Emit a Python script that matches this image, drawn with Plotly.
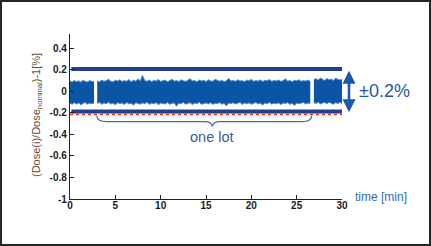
import numpy as np
import plotly.graph_objects as go

# ---- data ----
seg_bounds = [(0.0, 2.65), (3.0, 26.5), (26.9, 30.0)]  # minutes

up1 = [0.095, 0.088, 0.102, 0.09, 0.098, 0.085, 0.105, 0.092, 0.088, 0.1, 0.094, 0.09]
lo1 = [-0.11, -0.12, -0.105, -0.118, -0.108, -0.125, -0.112, -0.104, -0.12, -0.11, -0.115, -0.108]

up2 = [0.098, 0.09, 0.105, 0.093, 0.1, 0.112, 0.095, 0.088, 0.104, 0.097,
       0.108, 0.092, 0.1, 0.094, 0.11, 0.09, 0.103, 0.096, 0.115, 0.099,
       0.148, 0.1, 0.094, 0.106, 0.091, 0.102, 0.097, 0.11, 0.093, 0.1,
       0.105, 0.089, 0.098, 0.112, 0.095, 0.101, 0.092, 0.107, 0.099, 0.093,
       0.104, 0.118, 0.096, 0.1, 0.09, 0.106, 0.097, 0.103, 0.091, 0.109,
       0.098, 0.094, 0.112, 0.1, 0.095, 0.104, 0.09, 0.099, 0.121, 0.096,
       0.102, 0.093, 0.108, 0.097, 0.1, 0.091, 0.105, 0.098, 0.113, 0.094,
       0.1, 0.096, 0.107, 0.092, 0.103, 0.099, 0.11, 0.094, 0.101, 0.097,
       0.106, 0.093, 0.099, 0.117, 0.095, 0.102, 0.09, 0.104, 0.098, 0.108,
       0.094, 0.1, 0.096, 0.105, 0.092]
lo2 = [-0.112, -0.104, -0.12, -0.108, -0.115, -0.102, -0.118, -0.11, -0.125, -0.106,
       -0.114, -0.108, -0.122, -0.104, -0.117, -0.111, -0.128, -0.106, -0.113, -0.119,
       -0.108, -0.115, -0.102, -0.121, -0.11, -0.116, -0.105, -0.124, -0.109, -0.113,
       -0.118, -0.104, -0.12, -0.112, -0.107, -0.138, -0.11, -0.116, -0.103, -0.119,
       -0.111, -0.106, -0.123, -0.109, -0.114, -0.102, -0.12, -0.113, -0.108, -0.117,
       -0.105, -0.121, -0.11, -0.115, -0.104, -0.119, -0.112, -0.135, -0.108, -0.114,
       -0.106, -0.118, -0.11, -0.103, -0.122, -0.109, -0.115, -0.107, -0.12, -0.112,
       -0.104, -0.117, -0.111, -0.126, -0.108, -0.114, -0.103, -0.119, -0.11, -0.116,
       -0.107, -0.122, -0.109, -0.113, -0.105, -0.12, -0.111, -0.132, -0.108, -0.116,
       -0.11, -0.104, -0.118, -0.109, -0.113]

up3 = [0.11, 0.118, 0.104, 0.125, 0.112, 0.1, 0.12, 0.108, 0.115, 0.102, 0.122, 0.11, 0.106, 0.112]
lo3 = [-0.105, -0.112, -0.1, -0.118, -0.108, -0.104, -0.115, -0.102, -0.11, -0.12, -0.106, -0.113, -0.104, -0.11]

upper_bar = 0.208
lower_bar = -0.188
red_limit = -0.215
lot_start, lot_end = 2.94, 26.66

y_ticks = [0.4, 0.2, 0, -0.2, -0.4, -0.6, -0.8, -1]
y_tick_text = ["0.4", "0.2", "0", "-0.2", "-0.4", "-0.6", "-0.8", "-1"]
x_ticks = [0, 5, 10, 15, 20, 25, 30]

# ---- figure ----
fig = go.Figure()

SIG_FILL = "#0b56a4"
SIG_EDGE = "#5a8fcc"
for (t0, t1), up, lo in zip(seg_bounds, [up1, up2, up3], [lo1, lo2, lo3]):
    t = np.linspace(t0, t1, len(up))
    fig.add_trace(go.Scatter(x=t, y=lo, mode="lines", line=dict(color=SIG_EDGE, width=1),
                             showlegend=False, hoverinfo="skip"))
    fig.add_trace(go.Scatter(x=t, y=up, mode="lines", line=dict(color=SIG_EDGE, width=1),
                             fill="tonexty", fillcolor=SIG_FILL, showlegend=False, hoverinfo="skip"))

# red dotted limit
fig.add_trace(go.Scatter(x=[0, 30], y=[red_limit, red_limit], mode="lines",
                         line=dict(color="#e0332b", width=1.5, dash="dot"),
                         showlegend=False, hoverinfo="skip"))
# navy limit bars
for yb in [upper_bar, lower_bar]:
    fig.add_trace(go.Scatter(x=[0.15, 30], y=[yb, yb], mode="lines",
                             line=dict(color="#243f8c", width=4),
                             showlegend=False, hoverinfo="skip"))

# plot-area pixel geometry
L, R, T, B = 70, 89, 34, 47
W, H = 431, 246
pw, ph = W - L - R, H - T - B
def px_x(p):
    return (p - L) / pw
def px_y(q):
    return (H - B - q) / ph

# curly brace under "one lot"
mid = (lot_start + lot_end) / 2 + 0.9
yb0, yb1, ytip = -0.226, -0.281, -0.325
brace = (f"M {lot_start},{yb0} Q {lot_start+0.06},{yb1} {lot_start+1.1},{yb1} "
         f"L {mid-0.8},{yb1} Q {mid-0.1},{yb1} {mid},{ytip} "
         f"Q {mid+0.1},{yb1} {mid+0.8},{yb1} "
         f"L {lot_end-1.0},{yb1} Q {lot_end-0.06},{yb1} {lot_end},{yb0}")
fig.add_shape(type="path", path=brace, xref="x", yref="y",
              line=dict(color="#4a68a8", width=1.2))

# outer frame
fig.add_shape(type="rect", xref="paper", yref="paper",
              x0=px_x(1), x1=px_x(430), y0=px_y(245), y1=px_y(1),
              line=dict(color="#262626", width=2))

FONT = "Liberation Sans, Arial, sans-serif"

# double arrow
fig.add_annotation(x=px_x(349), y=lower_bar - 0.005, xref="paper", yref="y",
                   ax=0, ay=-43, axref="pixel", ayref="pixel", text="",
                   showarrow=True, arrowside="end+start", arrowhead=2,
                   arrowsize=1, arrowwidth=2.6, arrowcolor="#1a5aa8",
                   standoff=0, startstandoff=0)
fig.add_annotation(x=px_x(384), y=0, xref="paper", yref="y", text="±0.2%",
                   showarrow=False, xanchor="center", yanchor="middle",
                   font=dict(family=FONT, size=18, color="#1a5aa8"))
fig.add_annotation(x=(lot_start + lot_end) / 2 + 0.9, y=-0.42, xref="x", yref="y",
                   text="one lot", showarrow=False, xanchor="center", yanchor="middle",
                   font=dict(family=FONT, size=14.5, color="#3d5a9a"))
fig.add_annotation(x=px_x(353), y=px_y(197), xref="paper", yref="paper",
                   text="time [min]", showarrow=False, xanchor="left", yanchor="middle",
                   font=dict(family=FONT, size=12, color="#2f6cc0"))
fig.add_annotation(x=px_x(37), y=px_y(115), xref="paper", yref="paper",
                   text="(Dose(i)/Dose<sub>nominal</sub>)-1[%]", textangle=-90,
                   showarrow=False, xanchor="center", yanchor="middle",
                   font=dict(family=FONT, size=11, color="#6e4b2e"))

axis_common = dict(showline=True, linecolor="#222", linewidth=1.3, showgrid=False,
                   zeroline=False, ticks="inside", ticklen=4, tickwidth=1.2,
                   tickcolor="#222",
                   tickfont=dict(family=FONT, size=10, color="#1a1a1a", weight="bold"))
fig.update_xaxes(range=[0, 30], tickvals=x_ticks, ticklabelstandoff=-3, **axis_common)
fig.update_yaxes(range=[-1, 0.533], tickvals=y_ticks, ticktext=y_tick_text, **axis_common)

fig.update_layout(width=W, height=H, margin=dict(l=L, r=R, t=T, b=B),
                  paper_bgcolor="white", plot_bgcolor="white", showlegend=False)

fig.write_html("out.html")
